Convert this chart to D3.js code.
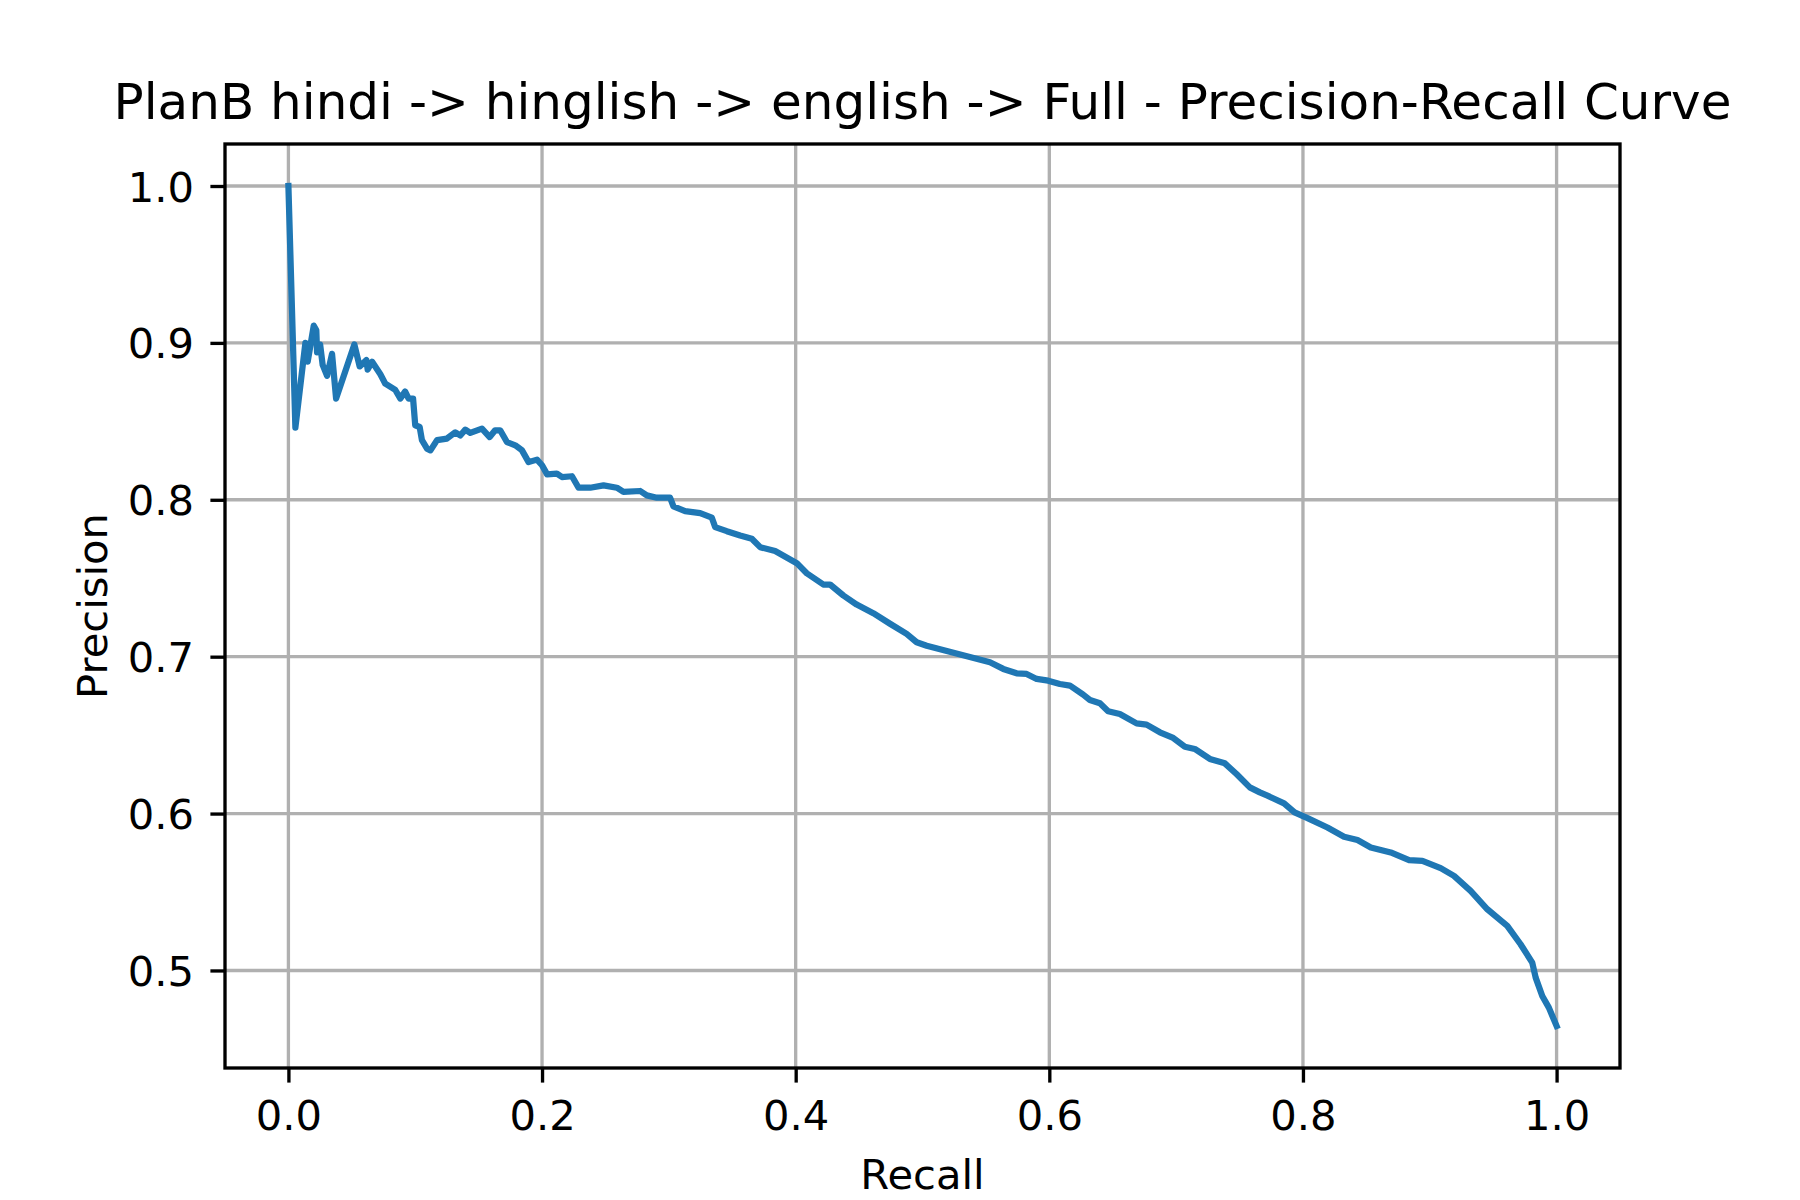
<!DOCTYPE html>
<html>
<head>
<meta charset="utf-8">
<script src="https://cdn.jsdelivr.net/npm/d3@7"></script>
<style>
  body { margin: 0; background: #fff; }
  svg { display: block; font-family: "DejaVu Sans", sans-serif; }
</style>
</head>
<body>
<svg id="drawspace" width="1800" height="1200"></svg>
<script>
// values
let recall = [0.000, 0.0055, 0.0134, 0.0152, 0.020, 0.022, 0.0226, 0.025, 0.027, 0.0305,
  0.0344, 0.0376, 0.052, 0.0562, 0.0615, 0.0625, 0.066, 0.0725, 0.0764, 0.0843,
  0.0883, 0.092, 0.0948, 0.0983, 0.100, 0.1035, 0.1053, 0.1093, 0.112, 0.1172,
  0.125, 0.1316, 0.1355, 0.1395, 0.1434, 0.1526, 0.1587, 0.163, 0.167, 0.1723,
  0.1789, 0.1842, 0.1894, 0.196, 0.200, 0.204, 0.2117, 0.2157, 0.2236, 0.2288,
  0.238, 0.2485, 0.259, 0.2642, 0.2774, 0.2826, 0.2905, 0.301, 0.3036, 0.3128,
  0.3247, 0.3339, 0.3365, 0.3457, 0.3562, 0.3654, 0.372, 0.3838, 0.4009, 0.4087,
  0.4218, 0.4271, 0.4376, 0.4481, 0.4612, 0.4744, 0.4875, 0.4954, 0.5033, 0.5532,
  0.5637, 0.5742, 0.5821, 0.590, 0.5991, 0.6083, 0.6162, 0.6267, 0.632, 0.6399,
  0.6464, 0.6556, 0.6688, 0.6767, 0.6872, 0.6977, 0.7069, 0.7147, 0.7266, 0.7384,
  0.7476, 0.7581, 0.766, 0.772, 0.7851, 0.7934, 0.8036, 0.8193, 0.8324, 0.843,
  0.8535, 0.8692, 0.8837, 0.8942, 0.9086, 0.9191, 0.9322, 0.9454, 0.9611, 0.9716,
  0.9808, 0.9835, 0.9887, 0.9939, 1.000];
let precision = [1.000, 0.846, 0.900, 0.888, 0.911, 0.908, 0.894, 0.899, 0.886, 0.879,
  0.893, 0.8645, 0.899, 0.885, 0.889, 0.883, 0.888, 0.880, 0.874, 0.870,
  0.8645, 0.869, 0.8645, 0.8645, 0.8475, 0.8464, 0.838, 0.8326, 0.8315, 0.838,
  0.839, 0.843, 0.841, 0.8447, 0.8426, 0.8454, 0.840, 0.8443, 0.8443, 0.8368,
  0.8347, 0.8315, 0.824, 0.8256, 0.822, 0.8162, 0.8167, 0.8145, 0.815, 0.8077,
  0.8077, 0.8092, 0.8077, 0.805, 0.8056, 0.8028, 0.8013, 0.8013, 0.7958, 0.7928,
  0.7915, 0.7886, 0.7826, 0.780, 0.7773, 0.7752, 0.7698, 0.7673, 0.7596, 0.7532,
  0.746, 0.746, 0.739, 0.7332, 0.7277, 0.721, 0.7145, 0.7092, 0.707, 0.6964,
  0.6922, 0.6894, 0.689, 0.6858, 0.6847, 0.6826, 0.6816, 0.6758, 0.6724, 0.6703,
  0.6652, 0.6635, 0.6575, 0.6567, 0.6518, 0.6482, 0.6426, 0.6412, 0.6348, 0.632,
  0.6252, 0.6167, 0.6135, 0.6114, 0.6065, 0.6007, 0.5971, 0.5911, 0.5852, 0.5831,
  0.5784, 0.5752, 0.5703, 0.5699, 0.5652, 0.5603, 0.5507, 0.539, 0.5284, 0.5167,
  0.505, 0.4954, 0.4837, 0.4763, 0.4646];
let xTicks = [0, 0.2, 0.4, 0.6, 0.8, 1.0];
let yTicks = [0.5, 0.6, 0.7, 0.8, 0.9, 1.0];
let titleText = "PlanB hindi -> hinglish -> english -> Full - Precision-Recall Curve";

let svg = d3.select("#drawspace");
let axL = 225, axR = 1620, axT = 144, axB = 1068;
let lw = 3.33; // 0.8pt at 300dpi
let fs = 41.67; // 10pt

let xmin = -0.05, xmax = 1.05;
let ymin = d3.min(precision), ymax = d3.max(precision);
let ypad = (ymax - ymin) * 0.05;
let xscale = d3.scaleLinear().domain([xmin, xmax]).range([axL, axR]);
let yscale = d3.scaleLinear().domain([ymin - ypad, ymax + ypad]).range([axB, axT]);

// grid
let grid = svg.append("g");
grid.selectAll(".gx").data(xTicks).enter().append("line")
  .attr("x1", d => xscale(d)).attr("x2", d => xscale(d))
  .attr("y1", axT).attr("y2", axB)
  .attr("stroke", "#b0b0b0").attr("stroke-width", lw);
grid.selectAll(".gy").data(yTicks).enter().append("line")
  .attr("x1", axL).attr("x2", axR)
  .attr("y1", d => yscale(d)).attr("y2", d => yscale(d))
  .attr("stroke", "#b0b0b0").attr("stroke-width", lw);

// curve
let pts = recall.map((r, i) => ({ r: r, p: precision[i] }));
let myLine = d3.line().x(d => xscale(d.r)).y(d => yscale(d.p));
svg.append("path").datum(pts).attr("d", myLine)
  .attr("fill", "none").attr("stroke", "#1f77b4")
  .attr("stroke-width", 6.25).attr("stroke-linejoin", "round")
  .attr("stroke-linecap", "square");

// axes
let xAxis = svg.append("g").attr("transform", "translate(0," + axB + ")")
  .call(d3.axisBottom(xscale).tickValues(xTicks).tickFormat(d3.format(".1f"))
    .tickSize(14.6).tickPadding(17.8).tickSizeOuter(0));
let yAxis = svg.append("g").attr("transform", "translate(" + axL + ",0)")
  .call(d3.axisLeft(yscale).tickValues(yTicks).tickFormat(d3.format(".1f"))
    .tickSize(14.6).tickPadding(16.4).tickSizeOuter(0));
[xAxis, yAxis].forEach(a => {
  a.select(".domain").remove();
  a.selectAll("line").attr("stroke", "#000").attr("stroke-width", lw);
  a.selectAll("text").attr("fill", "#000").style("font-size", fs + "px")
    .style("font-family", "DejaVu Sans");
});
yAxis.selectAll("text").attr("dy", "0.36em");

// frame
svg.append("rect").attr("x", axL).attr("y", axT)
  .attr("width", axR - axL).attr("height", axB - axT)
  .attr("fill", "none").attr("stroke", "#000").attr("stroke-width", lw);

// labels
svg.append("text").attr("x", (axL + axR) / 2).attr("y", 119)
  .attr("text-anchor", "middle").style("font-size", "50px").text(titleText);
svg.append("text").attr("x", (axL + axR) / 2).attr("y", 1189)
  .attr("text-anchor", "middle").style("font-size", fs + "px").text("Recall");
svg.append("text").attr("transform", "translate(107," + (axT + axB) / 2 + ") rotate(-90)")
  .attr("text-anchor", "middle").style("font-size", fs + "px").text("Precision");
</script>
</body>
</html>
